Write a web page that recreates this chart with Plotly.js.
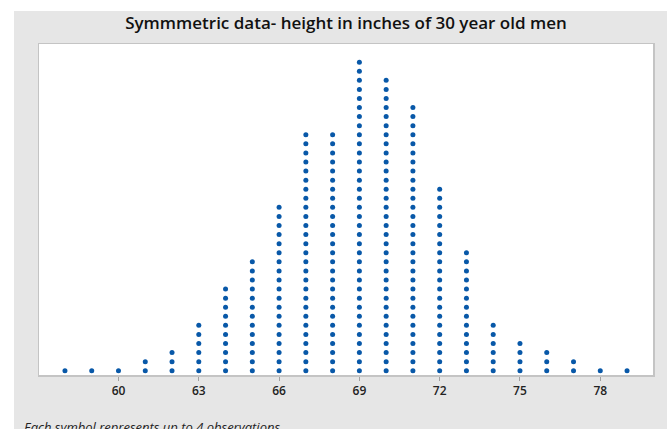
<!DOCTYPE html>
<html>
<head>
<meta charset="utf-8">
<script src="https://cdn.plot.ly/plotly-3.0.1.min.js"></script>
<style>
html,body{margin:0;padding:0;background:#ffffff;width:670px;height:429px;overflow:hidden;}
#chart{position:absolute;left:14px;top:11px;width:653px;height:418px;}
</style>
</head>
<body>
<div id="chart"></div>
<script>
// Heights (inches) and number of dots stacked at each height
const heights = [58,59,60,61,62,63,64,65,66,67,68,69,70,71,72,73,74,75,76,77,78,79];
const dotCounts = [1,1,1,2,3,6,10,13,19,27,27,35,33,30,21,14,6,4,3,2,1,1];
const tickValues = [60,63,66,69,72,75,78];
const titleText = "Symmmetric data- height in inches of 30 year old men";
const footnoteText = "Each symbol represents up to 4 observations.";

const xs = [], ys = [];
heights.forEach((h, i) => {
  for (let k = 1; k <= dotCounts[i]; k++) { xs.push(h); ys.push(k); }
});

const trace = {
  type: 'scatter', mode: 'markers', x: xs, y: ys,
  marker: {size: 5, color: '#0858a8'},
  hoverinfo: 'x'
};

const layout = {
  width: 653, height: 418,
  margin: {l: 25, r: 14, t: 33, b: 54},
  paper_bgcolor: '#e6e6e6',
  plot_bgcolor: '#ffffff',
  showlegend: false,
  title: {
    text: titleText,
    font: {family: 'Open Sans, sans-serif', size: 17, color: '#111', weight: 600},
    x: 0.5, xref: 'paper', xanchor: 'center',
    y: 0.972, yref: 'container', yanchor: 'middle'
  },
  xaxis: {
    range: [57.03, 79.97],
    tickvals: tickValues,
    ticktext: tickValues.map(String),
    ticks: 'outside', ticklen: 4, tickcolor: '#a0a0a0', tickwidth: 1,
    tickfont: {family: 'Open Sans, sans-serif', size: 12, color: '#222', weight: 600},
    showgrid: false, zeroline: false,
    showline: true, mirror: true, linecolor: '#c4c4c4', linewidth: 1.5
  },
  yaxis: {
    range: [0.53, 37.0],
    showticklabels: false, ticks: '', showgrid: false, zeroline: false,
    showline: true, mirror: true, linecolor: '#c4c4c4', linewidth: 1.5
  },
  annotations: [{
    text: footnoteText,
    xref: 'paper', yref: 'paper', x: -0.028, y: -0.125,
    xanchor: 'left', yanchor: 'top', showarrow: false,
    font: {family: 'Open Sans, sans-serif', size: 13, color: '#222', style: 'italic'}
  }]
};

Plotly.newPlot('chart', [trace], layout, {displayModeBar: false, staticPlot: true});
</script>
</body>
</html>
